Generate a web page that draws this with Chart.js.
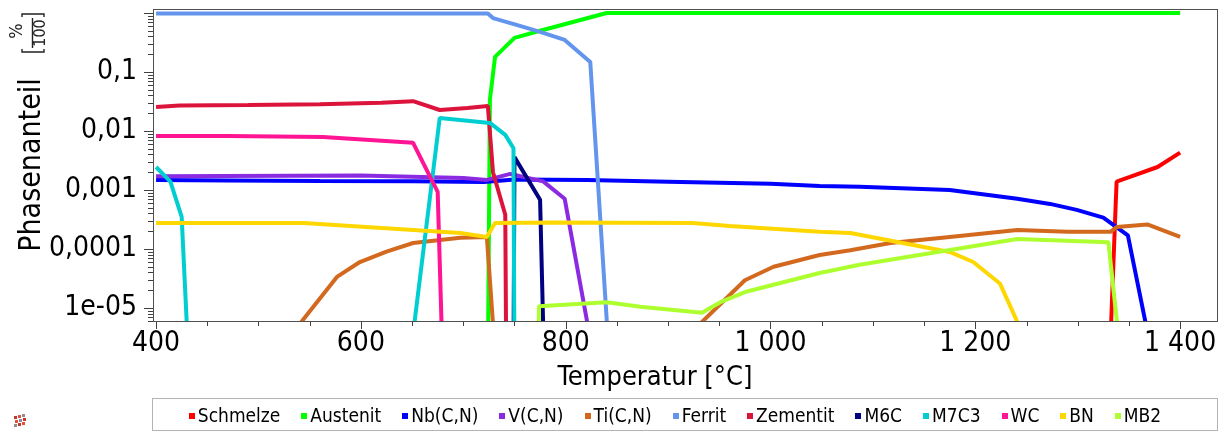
<!DOCTYPE html>
<html><head><meta charset="utf-8">
<script src="https://cdn.jsdelivr.net/npm/chart.js@4.4.1/dist/chart.umd.min.js"></script>
<style>html,body{margin:0;padding:0;background:#fff;overflow:hidden}canvas{display:block}</style>
</head><body>
<canvas id="c" width="1227" height="432"></canvas>
<script>
// ---- data (temperature °C / phase fraction) ----
const seriesNames = ['Schmelze','Austenit','Nb(C,N)','V(C,N)','Ti(C,N)','Ferrit','Zementit','M6C','M7C3','WC','BN','MB2'];
const seriesColors = ['#FF0000','#00FF00','#0000FF','#8A2BE2','#D2691E','#6495ED','#DC143C','#000080','#00CED1','#FF1493','#FFD700','#ADFF2F'];

const schmelzeT = [1331, 1337, 1338, 1351, 1378, 1400];
const schmelzeV = [1e-6, 5.2e-4, 1.38e-3, 1.66e-3, 2.45e-3, 4.3e-3];

const austenitT = [724, 726, 731, 750, 775, 840, 1400];
const austenitV = [1e-6, 0.034, 0.18, 0.38, 0.5, 1.0, 1.0];

const nbcnT = [400, 470, 560, 651, 720, 750, 821, 900, 1000, 1048, 1087, 1175, 1241, 1273, 1299, 1325, 1349, 1375];
const nbcnV = [1.48e-3, 1.45e-3, 1.42e-3, 1.4e-3, 1.37e-3, 1.5e-3, 1.48e-3, 1.38e-3, 1.27e-3, 1.17e-3, 1.13e-3, 1.0e-3, 7.1e-4, 5.8e-4, 4.6e-4, 3.4e-4, 1.7e-4, 1e-6];

const vcnT = [400, 600, 700, 723, 746, 778, 799, 829];
const vcnV = [1.7e-3, 1.75e-3, 1.6e-3, 1.48e-3, 1.87e-3, 1.4e-3, 7.1e-4, 1e-6];

const ticnT = [507, 577, 599, 625, 651, 697, 723, 732, 830, 888, 975, 1003, 1048, 1078, 1117, 1175, 1241, 1290, 1332, 1338, 1368, 1400];
const ticnV = [1e-6, 3.4e-5, 6e-5, 9e-5, 1.26e-4, 1.55e-4, 1.6e-4, 1e-6, null, 1e-6, 2.95e-5, 5e-5, 7.9e-5, 9.5e-5, 1.26e-4, 1.6e-4, 2.1e-4, 1.95e-4, 1.95e-4, 2.35e-4, 2.6e-4, 1.6e-4];

const ferritT = [400, 724, 729, 752, 775, 799, 824, 843];
const ferritV = [0.98, 0.98, 0.82, 0.63, 0.48, 0.35, 0.148, 1e-6];

const zementitT = [400, 423, 490, 560, 620, 651, 677, 704, 724, 729, 741, 742];
const zementitV = [0.0255, 0.027, 0.0275, 0.0285, 0.03, 0.032, 0.0227, 0.0245, 0.0265, 0.002, 3.8e-4, 1e-6];

const m6cT = [749, 750, 775, 779];
const m6cV = [1e-6, 3.6e-3, 6.8e-4, 1e-6];

const m7c3T = [400, 414, 425, 432, 540, 647, 677, 726, 741, 749, 750];
const m7c3V = [2.45e-3, 1.38e-3, 3.5e-4, 1e-6, null, 1e-6, 0.0166, 0.0137, 0.0086, 0.0051, 1e-6];

const wcT = [400, 470, 563, 651, 675, 680];
const wcV = [0.0082, 0.0082, 0.0079, 0.0063, 9.3e-4, 1e-6];

const bnT = [400, 544, 651, 697, 723, 731, 788, 924, 960, 1048, 1078, 1175, 1198, 1224, 1261];
const bnV = [2.75e-4, 2.75e-4, 2.1e-4, 1.86e-4, 1.6e-4, 2.75e-4, 2.8e-4, 2.75e-4, 2.45e-4, 1.95e-4, 1.86e-4, 8.9e-5, 6e-5, 2.6e-5, 1e-6];

const mb2T = [773, 774, 840, 873, 933, 951, 977, 1048, 1087, 1241, 1330, 1343];
const mb2V = [1e-6, 1.07e-5, 1.25e-5, 1.05e-5, 8.3e-6, 1.25e-5, 1.9e-5, 3.9e-5, 5.4e-5, 1.47e-4, 1.3e-4, 1e-6];

const xTickValues = [400, 600, 800, 1000, 1200, 1400];
const yTickValues = [1e-5, 1e-4, 1e-3, 1e-2, 1e-1];
const yTickLabels = ['1e-05', '0,0001', '0,001', '0,01', '0,1'];

const seriesT = [schmelzeT, austenitT, nbcnT, vcnT, ticnT, ferritT, zementitT, m6cT, m7c3T, wcT, bnT, mb2T];
const seriesV = [schmelzeV, austenitV, nbcnV, vcnV, ticnV, ferritV, zementitV, m6cV, m7c3V, wcV, bnV, mb2V];

const FONT = "'DejaVu Sans Condensed', 'DejaVu Sans', sans-serif";

const datasets = seriesNames.map((name, i) => ({
  label: name,
  data: seriesT[i].map((t, j) => ({ x: t, y: seriesV[i][j] })),
  borderColor: seriesColors[i],
  backgroundColor: seriesColors[i],
  borderWidth: 4,
  pointRadius: 0,
  tension: 0,
  fill: false,
  spanGaps: false,
  clip: 0,
  borderJoinStyle: 'bevel',
  order: seriesNames.length - i
}));

const decorPlugin = {
  id: 'decor',
  afterDraw(chart) {
    const ctx = chart.ctx;
    const a = chart.chartArea;
    const xs = chart.scales.x, ys = chart.scales.y;
    ctx.save();
    // frame
    ctx.strokeStyle = '#505050';
    ctx.lineWidth = 1;
    ctx.strokeRect(Math.round(a.left) + 0.5, Math.round(a.top) + 0.5, Math.round(a.right - a.left) - 1, Math.round(a.bottom - a.top));
    // x ticks
    ctx.strokeStyle = '#404040';
    ctx.beginPath();
    for (let t = 400; t <= xs.max; t += 50) {
      const px = Math.round(xs.getPixelForValue(t)) + 0.5;
      const len = (t % 200 === 0) ? 7 : 4;
      ctx.moveTo(px, a.bottom + 1);
      ctx.lineTo(px, a.bottom + 1 + len);
    }
    // y ticks
    for (let e = -6; e <= 0; e++) {
      for (let m = 1; m <= 9; m++) {
        const v = m * Math.pow(10, e);
        if (v < ys.min || v > ys.max) continue;
        const py = Math.round(ys.getPixelForValue(v)) + 0.5;
        const len = m === 1 ? 9 : 5;
        ctx.moveTo(a.left, py);
        ctx.lineTo(a.left - len, py);
      }
    }
    ctx.stroke();

    // x title
    ctx.fillStyle = '#000';
    ctx.font = '27px ' + FONT;
    ctx.textAlign = 'center';
    ctx.textBaseline = 'alphabetic';
    ctx.fillText('Temperatur [°C]', 655, 385);

    // y title (rotated)
    ctx.save();
    ctx.translate(40, 165);
    ctx.rotate(-Math.PI / 2);
    ctx.font = '30px ' + FONT;
    ctx.textAlign = 'center';
    ctx.fillText('Phasenanteil', 0, 0);
    ctx.restore();

    // unit fraction [%/100]
    ctx.save();
    ctx.translate(32, 33);
    ctx.rotate(-Math.PI / 2);
    ctx.fillStyle = '#222';
    ctx.strokeStyle = '#222';
    ctx.lineWidth = 1.4;
    ctx.textAlign = 'center';
    ctx.textBaseline = 'middle';
    ctx.font = '18px ' + FONT;
    ctx.fillText('%', 2, -15);
    ctx.font = '16px ' + FONT;
    ctx.fillText('100', 0, 9);
    ctx.beginPath();
    ctx.moveTo(-15, 0.5); ctx.lineTo(15, 0.5);
    // brackets
    ctx.moveTo(-16, -10); ctx.lineTo(-19, -10); ctx.lineTo(-19, 12); ctx.lineTo(-16, 12);
    ctx.moveTo(16, -10); ctx.lineTo(19, -10); ctx.lineTo(19, 12); ctx.lineTo(16, 12);
    ctx.stroke();
    ctx.restore();

    // legend box
    ctx.strokeStyle = '#b4b4b4';
    ctx.lineWidth = 1;
    ctx.strokeRect(152.5, 398.5, 1065, 32);
    ctx.font = '19px ' + FONT;
    ctx.textAlign = 'left';
    ctx.textBaseline = 'middle';
    const gapItem = 21, markW = 6, markGap = 3;
    const widths = chart.data.datasets.map(d => ctx.measureText(d.label).width);
    let total = widths.reduce((s, w) => s + markW + markGap + w, 0) + gapItem * (widths.length - 1);
    let x = 675 - total / 2;
    const ly = 416;
    chart.data.datasets.forEach((d, i) => {
      ctx.fillStyle = d.borderColor;
      ctx.fillRect(Math.round(x), ly - 3, markW, markW);
      ctx.fillStyle = '#000';
      ctx.fillText(d.label, x + markW + markGap, ly + 1);
      x += markW + markGap + widths[i] + gapItem;
    });

    // small icon bottom-left
    const cols = ['#c0392b', '#e74c3c', '#8e8e8e'];
    for (let r = 0; r < 3; r++) for (let c = 0; c < 3; c++) {
      ctx.fillStyle = cols[(r + c) % 3];
      ctx.fillRect(14 + c * 4 + (r % 2), 416 + r * 4 - c, 3, 3);
    }
    ctx.restore();
  }
};

const noPad = s => { s.paddingTop = 0; s.paddingBottom = 0; s.paddingLeft = 0; s.paddingRight = 0; };

new Chart(document.getElementById('c'), {
  type: 'line',
  data: { datasets },
  options: {
    responsive: false,
    animation: false,
    events: [],
    layout: { padding: { top: 9, right: 9, bottom: 40, left: 0 } },
    plugins: { legend: { display: false }, tooltip: { enabled: false }, title: { display: false } },
    scales: {
      x: {
        type: 'linear',
        min: 397,
        max: 1437,
        afterBuildTicks: s => { s.ticks = xTickValues.map(v => ({ value: v })); },
        afterFit: s => { s.height = 71; noPad(s); },
        grid: { display: false, drawTicks: false, tickLength: 0 },
        border: { display: false },
        ticks: {
          autoSkip: false, maxRotation: 0, padding: 6, color: '#000',
          font: { family: FONT, size: 28 },
          callback: v => v >= 1000 ? Math.floor(v / 1000) + ' ' + String(v % 1000).padStart(3, '0') : String(v)
        }
      },
      y: {
        type: 'logarithmic',
        min: 6e-6,
        max: 1.17,
        afterBuildTicks: s => { s.ticks = yTickValues.map(v => ({ value: v })); },
        afterFit: s => { s.width = 153; noPad(s); },
        grid: { display: false, drawTicks: false, tickLength: 0 },
        border: { display: false },
        ticks: {
          autoSkip: false, padding: 16, color: '#000',
          font: { family: FONT, size: 28 },
          callback: v => { const k = yTickValues.indexOf(v); return k >= 0 ? yTickLabels[k] : ''; }
        }
      }
    }
  },
  plugins: [decorPlugin]
});
</script>
</body></html>
